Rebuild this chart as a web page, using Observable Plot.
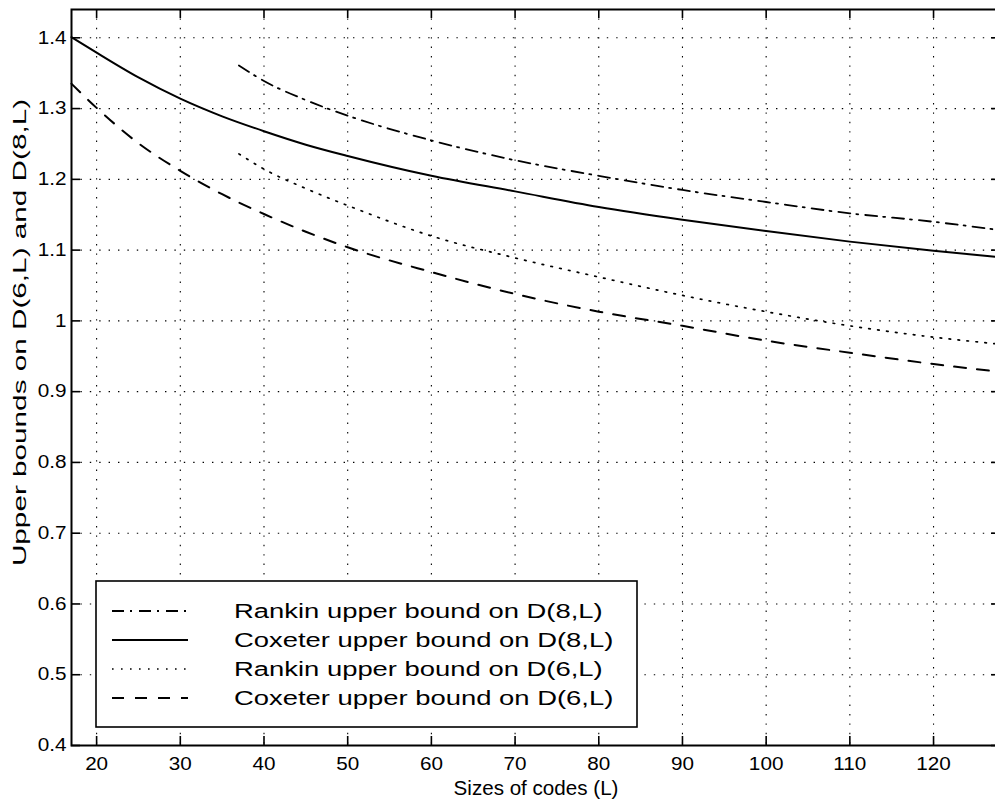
<!DOCTYPE html>
<html>
<head>
<meta charset="utf-8">
<script src="https://cdn.jsdelivr.net/npm/d3@7"></script>
<script src="https://cdn.jsdelivr.net/npm/@observablehq/plot@0.6"></script>
<style>
  html, body { margin: 0; padding: 0; background: #fff; overflow: hidden; }
  #chart svg { max-width: none !important; display: block; }
</style>
</head>
<body>
<div id="chart"></div>
<script>
// Upper bounds on D(n, L) for spherical codes, n = 6 and n = 8
const xTicks = [20, 30, 40, 50, 60, 70, 80, 90, 100, 110, 120];
const yTicks = [0.4, 0.5, 0.6, 0.7, 0.8, 0.9, 1.0, 1.1, 1.2, 1.3, 1.4];
const yTickLabels = ["0.4", "0.5", "0.6", "0.7", "0.8", "0.9", "1", "1.1", "1.2", "1.3", "1.4"];

const coxeterL = [17, 20, 25, 30, 35, 40, 45, 50, 60, 70, 80, 90, 100, 110, 120, 128];
const coxeter8 = [1.401, 1.379, 1.344, 1.314, 1.289, 1.268, 1.249, 1.233, 1.205, 1.183, 1.161, 1.143, 1.127, 1.112, 1.099, 1.090];
const coxeter6 = [1.335, 1.301, 1.251, 1.212, 1.179, 1.151, 1.126, 1.104, 1.069, 1.038, 1.013, 0.993, 0.972, 0.955, 0.939, 0.928];

const rankinL = [37, 40, 45, 50, 60, 70, 80, 90, 100, 110, 120, 128];
const rankin8 = [1.361, 1.339, 1.312, 1.290, 1.255, 1.227, 1.205, 1.185, 1.168, 1.152, 1.140, 1.128];
const rankin6 = [1.236, 1.2145, 1.187, 1.163, 1.120, 1.089, 1.062, 1.036, 1.013, 0.993, 0.977, 0.967];

const seriesNames = [
  "Rankin upper bound on D(8,L)",
  "Coxeter upper bound on D(8,L)",
  "Rankin upper bound on D(6,L)",
  "Coxeter upper bound on D(6,L)"
];
const xLabel = "Sizes of codes (L)";
const yLabel = "Upper bounds on D(6,L) and D(8,L)";

// line styles: dash-dot, solid, dotted, dashed
const dashes = ["12,6,2,7", null, "1.6,7.4", "12,11"];
const widths = [1.8, 2, 1.7, 2];

const rows = (xs, ys) => xs.map((L, i) => ({L, v: ys[i]}));
const series = [rows(rankinL, rankin8), rows(coxeterL, coxeter8), rows(rankinL, rankin6), rows(coxeterL, coxeter6)];

const W = 1000, H = 804, mL = 71, mR = 0, mT = 9, mB = 59;
const innerW = W - mL - mR, innerH = H - mT - mB;
const tick = 9;
const font = "'Liberation Sans', Arial, Helvetica, sans-serif";

const chart = Plot.plot({
  width: W,
  height: H,
  marginLeft: mL,
  marginRight: mR,
  marginTop: mT,
  marginBottom: mB,
  style: {fontFamily: font, fontSize: "18px", background: "#fff", color: "#000", maxWidth: "none"},
  x: {domain: [17, 128]},
  y: {domain: [0.4, 1.44]},
  marks: [
    // dotted grid
    Plot.ruleX(xTicks, {stroke: "#000", strokeWidth: 1.1, strokeDasharray: "1.4,8"}),
    Plot.ruleY(yTicks, {stroke: "#000", strokeWidth: 1.1, strokeDasharray: "1.4,8"}),
    // curves
    ...series.map((d, i) => Plot.line(d, {
      x: "L", y: "v", curve: "monotone-x",
      stroke: "#000", strokeWidth: widths[i],
      strokeDasharray: dashes[i] ?? undefined
    })),
    // inward ticks on all four sides
    Plot.ruleX(xTicks, {stroke: "#000", strokeWidth: 1.6, insetTop: innerH - tick}),
    Plot.ruleX(xTicks, {stroke: "#000", strokeWidth: 1.6, insetBottom: innerH - tick}),
    Plot.ruleY(yTicks, {stroke: "#000", strokeWidth: 1.6, insetRight: innerW - tick}),
    Plot.ruleY(yTicks, {stroke: "#000", strokeWidth: 1.6, insetLeft: innerW - tick}),
    Plot.frame({stroke: "#000", strokeWidth: 2}),
    Plot.axisX({ticks: xTicks, tickSize: 0, tickPadding: 12, label: null, tickFormat: d => String(d)}),
    Plot.axisY({ticks: yTicks, tickSize: 0, tickPadding: 5, label: null,
      tickFormat: d => yTickLabels[yTicks.indexOf(d)]}),
    Plot.text([xLabel], {text: d => d, frameAnchor: "bottom", dy: 43, fontSize: 20,
      textAnchor: "middle", lineAnchor: "middle"}),
    Plot.text([yLabel], {text: d => d, frameAnchor: "left", dx: -51, dy: -45, rotate: -90, fontSize: 18,
      textAnchor: "middle", lineAnchor: "middle"})
  ]
});

document.getElementById("chart").appendChild(chart);

// legend box in the lower left of the plot area
const svg = d3.select(chart);
const leg = svg.append("g").attr("class", "legend");
const box = {x: 96, y: 581, w: 541, h: 146};
leg.append("rect")
  .attr("x", box.x).attr("y", box.y).attr("width", box.w).attr("height", box.h)
  .attr("fill", "#fff").attr("stroke", "#000").attr("stroke-width", 1.6);
const rowY = [611, 640, 669, 698];
seriesNames.forEach((name, i) => {
  leg.append("line")
    .attr("x1", 112).attr("x2", 188).attr("y1", rowY[i]).attr("y2", rowY[i])
    .attr("stroke", "#000").attr("stroke-width", widths[i])
    .attr("stroke-dasharray", dashes[i]);
  leg.append("text")
    .attr("class", "legend-text")
    .attr("x", 234).attr("y", rowY[i]).attr("dy", "0.35em")
    .attr("text-anchor", "start")
    .attr("font-family", font).attr("font-size", 20).attr("fill", "#000")
    .text(name);
});

// widen glyphs to the lettering of the printed figure
function stretch(nodes, k) {
  nodes.forEach(t => {
    const len = t.getComputedTextLength();
    if (len > 0) {
      t.setAttribute("textLength", (len * k).toFixed(1));
      t.setAttribute("lengthAdjust", "spacingAndGlyphs");
    }
  });
}
const texts = Array.from(chart.querySelectorAll("text"));
stretch(Array.from(chart.querySelectorAll('[aria-label="x-axis tick label"] text, [aria-label="y-axis tick label"] text')), 1.15);
stretch(texts.filter(t => t.textContent === xLabel), 1.03);
stretch(texts.filter(t => t.textContent === yLabel), 1.65);
stretch(Array.from(chart.querySelectorAll(".legend-text")), 1.37);
</script>
</body>
</html>
